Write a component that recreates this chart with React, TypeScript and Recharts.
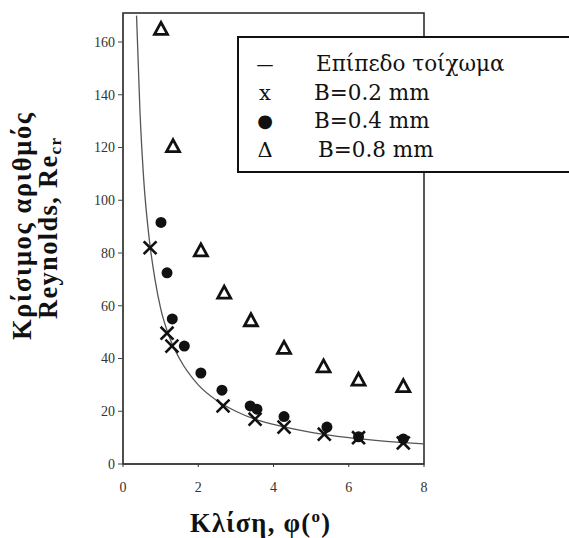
import React from 'react';
import { ComposedChart, Scatter, Line, XAxis, YAxis, ReferenceArea, Customized } from 'recharts';

const xTicks = [0, 2, 4, 6, 8];
const yTicks = [0, 20, 40, 60, 80, 100, 120, 140, 160];

// Plain wall curve
const curveX = [0.36, 0.45, 0.55, 0.7, 0.85, 1.0, 1.25, 1.5, 2, 2.5, 3, 3.5, 4, 5, 6, 7, 8];
const curveY = [170, 134, 108, 85, 70, 59, 47.5, 40, 30, 24, 20, 17, 15, 12, 10, 8.6, 7.6];

// B = 0.2 mm (x markers)
const b02X = [0.72, 1.17, 1.3, 2.66, 3.51, 4.28, 5.35, 6.26, 7.45];
const b02Y = [82, 49.6, 44.7, 22, 17, 14, 11.3, 10, 8];

// B = 0.4 mm (filled circles)
const b04X = [1.01, 1.17, 1.31, 1.63, 2.07, 2.63, 3.38, 3.56, 4.28, 5.42, 6.26, 7.45];
const b04Y = [91.6, 72.5, 55, 44.7, 34.5, 28, 22, 20.8, 18, 14, 10.3, 9.5];

// B = 0.8 mm (open triangles)
const b08X = [1.01, 1.33, 2.07, 2.69, 3.4, 4.28, 5.33, 6.26, 7.45];
const b08Y = [165, 120.5, 81, 65, 54.5, 44, 37, 32, 29.5];

const legendLabels = ['Επίπεδο τοίχωμα', 'B=0.2 mm', 'B=0.4 mm', 'B=0.8 mm'];
const legendSymbols = ['—', 'x', '●', 'Δ'];

const zip = (xs: number[], ys: number[]) => xs.map((x, i) => ({ x, y: ys[i] }));
const curveData = zip(curveX, curveY);
const b02Data = zip(b02X, b02Y);
const b04Data = zip(b04X, b04Y);
const b08Data = zip(b08X, b08Y);

const CrossShape = (p: any) => {
  const { cx, cy } = p;
  const s = 5.5;
  return (
    <g stroke="#111" strokeWidth={2.6} strokeLinecap="square">
      <line x1={cx - s} y1={cy - s} x2={cx + s} y2={cy + s} />
      <line x1={cx - s} y1={cy + s} x2={cx + s} y2={cy - s} />
    </g>
  );
};
const DotShape = (p: any) => <circle cx={p.cx} cy={p.cy} r={5.5} fill="#111" />;
const TriShape = (p: any) => {
  const { cx, cy } = p;
  return (
    <polygon
      points={`${cx},${cy - 6.5} ${cx + 6.5},${cy + 5.5} ${cx - 6.5},${cy + 5.5}`}
      fill="#fff"
      stroke="#111"
      strokeWidth={2.8}
      strokeLinejoin="miter"
    />
  );
};

const Titles = () => (
  <g fontFamily="'Liberation Serif', serif" fontWeight="bold" fill="#111">
    <text x={0} y={0} fontSize={26.5} textAnchor="middle" textLength={227} transform="translate(31,226.5) rotate(-90)">
      Κρίσιμος αριθμός
    </text>
    <text x={0} y={0} fontSize={26.5} textAnchor="middle" textLength={181} transform="translate(57,228.5) rotate(-90)">
      Reynolds, Re<tspan fontSize={17} dy={4}>cr</tspan>
    </text>
    <text x={260} y={532} fontSize={26.5} textAnchor="middle" textLength={140}>
      Κλίση, φ(<tspan fontSize={17} dy={-10}>o</tspan><tspan dy={10}>)</tspan>
    </text>
  </g>
);

export default function App() {
  return (
    <div style={{ position: 'absolute', left: 0, top: 0, width: 569, height: 538, background: '#fff' }}>
      <ComposedChart
        width={569}
        height={538}
        margin={{ top: 13, right: 145, bottom: 44, left: 63 }}
      >
        <XAxis
          type="number"
          dataKey="x"
          domain={[0, 8]}
          ticks={xTicks}
          allowDataOverflow
          height={30}
          tickSize={3}
          tickMargin={15}
          stroke="#333"
          tick={{ fontSize: 14, fill: '#333', fontFamily: "'Liberation Serif', serif" }}
        />
        <YAxis
          type="number"
          dataKey="y"
          domain={[0, 171]}
          ticks={yTicks}
          allowDataOverflow
          width={60}
          tickSize={5}
          tickMargin={3}
          stroke="#444"
          tick={{ fontSize: 14, fill: '#333', fontFamily: "'Liberation Serif', serif" }}
        />
        <ReferenceArea x1={0} x2={8} y1={0} y2={171} fill="none" stroke="#222" strokeWidth={1.5} ifOverflow="visible" />
        <Line
          data={curveData}
          dataKey="y"
          type="monotone"
          stroke="#555"
          strokeWidth={1.3}
          dot={false}
          isAnimationActive={false}
          legendType="none"
        />
        <Scatter data={b08Data} dataKey="y" shape={TriShape} isAnimationActive={false} />
        <Scatter data={b04Data} dataKey="y" shape={DotShape} isAnimationActive={false} />
        <Scatter data={b02Data} dataKey="y" shape={CrossShape} isAnimationActive={false} />
        <Customized component={Titles} />
      </ComposedChart>
      <div
        style={{
          position: 'absolute',
          left: 237,
          top: 36,
          width: 340,
          height: 137,
          border: '2px solid #111',
          background: '#fff',
          boxSizing: 'border-box',
          fontFamily: "'DejaVu Serif', serif",
          fontSize: 21.5,
          color: '#111',
          paddingTop: 12,
        }}
      >
        {legendLabels.map((lab, i) => (
          <div key={lab} style={{ position: 'relative', height: 28.5, lineHeight: '28.5px' }}>
            <span style={{ position: 'absolute', left: 17, width: 18, textAlign: 'center', fontSize: i === 2 ? 18 : i === 0 ? 17 : 21 }}>
              {legendSymbols[i]}
            </span>
            <span style={{ position: 'absolute', left: i === 0 ? 77 : i === 3 ? 79 : 75 }}>{lab}</span>
          </div>
        ))}
      </div>
    </div>
  );
}
